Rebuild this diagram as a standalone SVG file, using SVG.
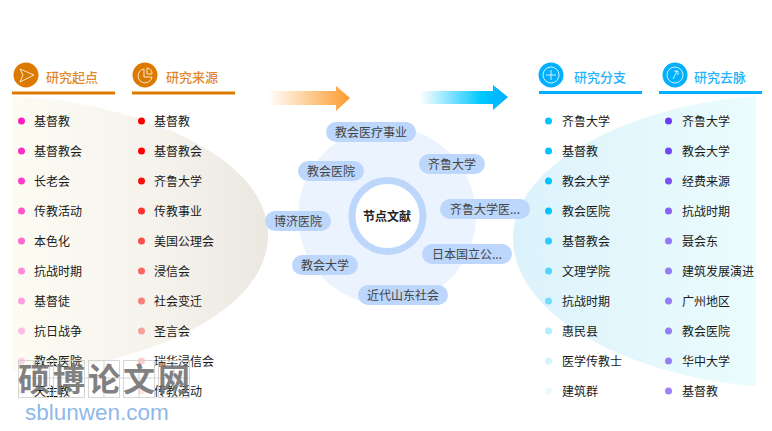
<svg xmlns="http://www.w3.org/2000/svg" width="772" height="431" viewBox="0 0 772 431">
<style>
text{font-family:"Noto Sans CJK SC","Liberation Sans",sans-serif}
.i{font-size:12px;fill:#1a1a1a}
.t{font-size:13px;font-weight:500}
.o{fill:#dc7a00}.b{fill:#00b0ff}
.to{fill:#e0882a}.tb{fill:#1fb4fb}
.p{fill:#bcd7fb}
.l{font-size:12px;fill:#444;text-anchor:middle}
.w{fill:none;stroke:#fff;stroke-width:1;opacity:.8}
.g{fill:none;stroke:#ccc;stroke-width:1}
</style>
<defs>
<linearGradient id="lg" x1="0" x2="1" y1="0" y2="0"><stop offset="0" stop-color="#fdfcf3"/><stop offset=".55" stop-color="#f5f3ec"/><stop offset="1" stop-color="#ebe8e2"/></linearGradient>
<linearGradient id="rg" x1="0" x2="1" y1="0" y2="0"><stop offset="0" stop-color="#dcf2fb"/><stop offset="1" stop-color="#ebfcfd"/></linearGradient>
<linearGradient id="oa" x1="0" x2="1" y1="0" y2="0"><stop offset="0" stop-color="#fb9a2c" stop-opacity="0"/><stop offset="1" stop-color="#fb9a2c"/></linearGradient>
<linearGradient id="ba" x1="0" x2="1" y1="0" y2="0"><stop offset="0" stop-color="#00c4ff" stop-opacity="0"/><stop offset=".7" stop-color="#00c8ff"/><stop offset="1" stop-color="#00adff"/></linearGradient>
</defs>
<g id="backgrounds">
<path d="M12 96C120 100 268 150 268 235C268 320 120 372 12 372Z" fill="url(#lg)"/>
<path d="M756 96C640 104 513 160 513 238C513 320 640 378 756 386Z" fill="url(#rg)"/>
<circle cx="387" cy="216" r="89" fill="#ebf3fe"/>
</g>
<g id="connectors">
<path d="M268 91H336V86L350 98L336 111V105H268Z" fill="url(#oa)"/>
<path d="M420 91H493V85L508 97L493 110V104H420Z" fill="url(#ba)"/>
</g>
<g id="head-qidian">
<circle cx="26" cy="75" r="12.5" class="o"/>
<path class="w" d="M20 69L34 75L20 82L23 75Z"/>
<rect x="12" y="91.500" width="103" height="3" class="o"/>
<text x="46" y="82" class="t to">研究起点</text>
</g>
<g id="head-laiyuan">
<circle cx="145" cy="75" r="12.5" class="o"/>
<path class="w" d="M144 69A7 7 0 1 0 152 77H144Z M147 68A6 6 0 0 1 152 74H147Z"/>
<rect x="132" y="91.500" width="103" height="3" class="o"/>
<text x="166" y="82" class="t to">研究来源</text>
</g>
<g id="head-fenzhi">
<circle cx="551" cy="75" r="12.500" class="b"/>
<circle cx="551" cy="75" r="8" class="w"/><path class="w" d="M546 75H556M551 70V80"/>
<rect x="539" y="91" width="103" height="3" class="b"/>
<text x="574" y="82" class="t tb">研究分支</text>
</g>
<g id="head-qumai">
<circle cx="675" cy="75" r="12.500" class="b"/>
<circle cx="675" cy="75" r="8" class="w"/><path class="w" d="M673 79L677 71M674 71H678V75"/>
<rect x="659" y="91" width="103" height="3" class="b"/>
<text x="694" y="82" class="t tb">研究去脉</text>
</g>
<g id="col-qidian">
<g fill="#ff1dc0">
<circle cx="21.500" cy="121" r="3.500"/><circle cx="21.500" cy="151" r="3.500" opacity=".93"/><circle cx="21.500" cy="181" r="3.500" opacity=".85"/><circle cx="21.500" cy="211" r="3.500" opacity=".75"/><circle cx="21.500" cy="241" r="3.500" opacity=".65"/><circle cx="21.500" cy="271" r="3.500" opacity=".5"/><circle cx="21.500" cy="301" r="3.500" opacity=".4"/><circle cx="21.500" cy="331" r="3.500" opacity=".28"/><circle cx="21.500" cy="361" r="3.500" opacity=".18"/><circle cx="21.500" cy="391" r="3.500" opacity=".1"/>
</g>
<text class="i" x="34" y="125.500">基督教</text><text class="i" x="34" y="155.500">基督教会</text><text class="i" x="34" y="185.500">长老会</text><text class="i" x="34" y="215.500">传教活动</text><text class="i" x="34" y="245.500">本色化</text><text class="i" x="34" y="275.500">抗战时期</text><text class="i" x="34" y="305.500">基督徒</text><text class="i" x="34" y="335.500">抗日战争</text><text class="i" x="34" y="365.500">教会医院</text><text class="i" x="34" y="395.500">天主教</text>
</g>
<g id="col-laiyuan">
<g fill="#ff0000">
<circle cx="141.500" cy="121" r="3.500"/><circle cx="141.500" cy="151" r="3.500"/><circle cx="141.500" cy="181" r="3.500" opacity=".95"/><circle cx="141.500" cy="211" r="3.500" opacity=".8"/><circle cx="141.500" cy="241" r="3.500" opacity=".68"/><circle cx="141.500" cy="271" r="3.500" opacity=".58"/><circle cx="141.500" cy="301" r="3.500" opacity=".48"/><circle cx="141.500" cy="331" r="3.500" opacity=".35"/><circle cx="141.500" cy="361" r="3.500" opacity=".2"/><circle cx="141.500" cy="391" r="3.500" opacity=".1"/>
</g>
<text class="i" x="154" y="125.500">基督教</text><text class="i" x="154" y="155.500">基督教会</text><text class="i" x="154" y="185.500">齐鲁大学</text><text class="i" x="154" y="215.500">传教事业</text><text class="i" x="154" y="245.500">美国公理会</text><text class="i" x="154" y="275.500">浸信会</text><text class="i" x="154" y="305.500">社会变迁</text><text class="i" x="154" y="335.500">圣言会</text><text class="i" x="154" y="365.500">瑞华浸信会</text><text class="i" x="154" y="395.500">传教活动</text>
</g>
<g id="center">
<circle cx="387.500" cy="216" r="35.500" fill="#fff" stroke="#bcd7fb" stroke-width="7"/>
<text x="387" y="221" font-size="12" font-weight="700" fill="#222" text-anchor="middle">节点文献</text>
</g>
<g id="n1"><rect class="p" x="326" y="122" width="90" height="20" rx="10"/><text class="l" x="371" y="137">教会医疗事业</text></g>
<g id="n2"><rect class="p" x="419" y="154" width="66" height="20" rx="10"/><text class="l" x="452" y="169">齐鲁大学</text></g>
<g id="n3"><rect class="p" x="440" y="199" width="90" height="20" rx="10"/><text class="l" x="485" y="214">齐鲁大学医...</text></g>
<g id="n4"><rect class="p" x="422" y="244" width="90" height="20" rx="10"/><text class="l" x="467" y="259">日本国立公...</text></g>
<g id="n5"><rect class="p" x="358" y="285" width="90" height="20" rx="10"/><text class="l" x="403" y="300">近代山东社会</text></g>
<g id="n6"><rect class="p" x="292" y="255" width="66" height="20" rx="10"/><text class="l" x="325" y="270">教会大学</text></g>
<g id="n7"><rect class="p" x="265" y="211" width="66" height="20" rx="10"/><text class="l" x="298" y="226">博济医院</text></g>
<g id="n8"><rect class="p" x="298" y="161" width="66" height="20" rx="10"/><text class="l" x="331" y="176">教会医院</text></g>
<g id="col-fenzhi">
<g fill="#00c2ff">
<circle cx="548.500" cy="121" r="3.500"/><circle cx="548.500" cy="151" r="3.500"/><circle cx="548.500" cy="181" r="3.500"/><circle cx="548.500" cy="211" r="3.500"/><circle cx="548.500" cy="241" r="3.500" opacity=".8"/><circle cx="548.500" cy="271" r="3.500" opacity=".62"/><circle cx="548.500" cy="301" r="3.500" opacity=".48"/><circle cx="548.500" cy="331" r="3.500" opacity=".3"/><circle cx="548.500" cy="361" r="3.500" opacity=".18"/><circle cx="548.500" cy="391" r="3.500" opacity=".08"/>
</g>
<text class="i" x="562" y="125.500">齐鲁大学</text><text class="i" x="562" y="155.500">基督教</text><text class="i" x="562" y="185.500">教会大学</text><text class="i" x="562" y="215.500">教会医院</text><text class="i" x="562" y="245.500">基督教会</text><text class="i" x="562" y="275.500">文理学院</text><text class="i" x="562" y="305.500">抗战时期</text><text class="i" x="562" y="335.500">惠民县</text><text class="i" x="562" y="365.500">医学传教士</text><text class="i" x="562" y="395.500">建筑群</text>
</g>
<g id="col-qumai">
<g fill="#6a3ef0">
<circle cx="668.500" cy="121" r="3.500"/><circle cx="668.500" cy="151" r="3.500" opacity=".95"/><circle cx="668.500" cy="181" r="3.500" opacity=".88"/><circle cx="668.500" cy="211" r="3.500" opacity=".8"/><circle cx="668.500" cy="241" r="3.500" opacity=".68"/><circle cx="668.500" cy="271" r="3.500" opacity=".65"/><circle cx="668.500" cy="301" r="3.500" opacity=".65"/><circle cx="668.500" cy="331" r="3.500" opacity=".65"/><circle cx="668.500" cy="361" r="3.500" opacity=".65"/><circle cx="668.500" cy="391" r="3.500" opacity=".65"/>
</g>
<text class="i" x="682" y="125.500">齐鲁大学</text><text class="i" x="682" y="155.500">教会大学</text><text class="i" x="682" y="185.500">经费来源</text><text class="i" x="682" y="215.500">抗战时期</text><text class="i" x="682" y="245.500">聂会东</text><text class="i" x="682" y="275.500">建筑发展演进</text><text class="i" x="682" y="305.500">广州地区</text><text class="i" x="682" y="335.500">教会医院</text><text class="i" x="682" y="365.500">华中大学</text><text class="i" x="682" y="395.500">基督教</text>
</g>
<g id="watermark">
<g opacity=".8">
<rect class="g" x="18.500" y="360.500" width="31" height="37"/><rect class="g" x="53.500" y="360.500" width="31" height="37"/><rect class="g" x="88.500" y="360.500" width="31" height="37"/><rect class="g" x="123.500" y="360.500" width="31" height="37"/><rect class="g" x="158.500" y="360.500" width="31" height="37"/>
<path class="g" d="M18 378H190M34 361V397M69 361V397M104 361V397M139 361V397M174 361V397"/>
</g>
<g font-size="32" font-weight="700" fill="#707070" fill-opacity=".9" text-anchor="middle">
<text x="34" y="391">硕</text><text x="69" y="391">博</text><text x="104" y="391">论</text><text x="139" y="391">文</text><text x="174" y="391">网</text>
</g>
<text x="25" y="420" font-size="22.500" fill="#8fb8ea" style="font-family:'Liberation Sans',sans-serif">sblunwen.com</text>
</g>
</svg>
